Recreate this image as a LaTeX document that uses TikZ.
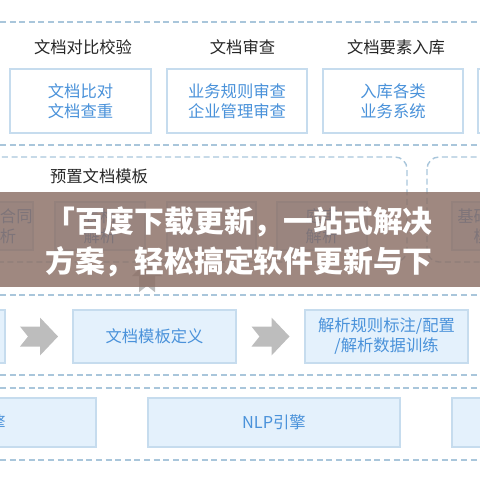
\documentclass[tikz,border=0pt]{standalone}
\usepackage{fontspec}
\setmainfont{Noto Sans CJK SC}
\usetikzlibrary{positioning}
\usetikzlibrary{calc}
\definecolor{dashblue}{HTML}{A9C6DB}
\definecolor{lineblue}{HTML}{C6DCEE}
\definecolor{fillblue}{HTML}{E4F1FC}
\definecolor{textblue}{HTML}{4A92DA}
\definecolor{headgray}{HTML}{262626}
\definecolor{chevgray}{HTML}{BDBDBD}
\definecolor{bannerbrown}{RGB}{138,110,100}

\begin{document}
\begin{tikzpicture}[x=0.025cm, y=-0.025cm,
  every node/.style={font=\fontsize{11.6}{14.2}\selectfont, inner sep=0pt},
  sep/.style={draw=dashblue, line width=1pt, dash pattern=on 0.15cm off 0.09cm},
  hdr/.style={text=headgray},
  topbox/.style={draw=lineblue, fill=white, line width=0.8pt, text=textblue, align=center, minimum height=1.6cm},
  tplbox/.style={draw=lineblue, fill=fillblue, line width=0.8pt, text=textblue, align=center, minimum height=1.2cm},
  flowbox/.style={draw=lineblue, fill=fillblue, line width=0.8pt, text=textblue, align=center},
  banner/.style={text=white, align=center, font=\fontsize{21.2}{28.45}\selectfont\bfseries},
  chev/.pic={\fill[chevgray] (-19,-10) -- (1,-10) -- (1,-19) -- (19,0) -- (1,19) -- (1,10) -- (-19,10) -- (-11,0) -- cycle;}]
            \useasboundingbox (0,0) rectangle (480,480);
            \clip (0,0) rectangle (480,480);

            \foreach \y in {22,145,295,375,388,460}
                \draw[sep] (0,\y) -- (480,\y);

            % top row
            \node[topbox, minimum width=3.525cm] (compare) at (80.5,101) {文档比对\\文档查重};
            \node[topbox, minimum width=3.5cm] (review) at (237,101) {业务规则审查\\企业管理审查};
            \node[topbox, minimum width=3.5cm] (store) at (393,101) {入库各类\\业务系统};
            \node[topbox, minimum width=3.5cm] (more) at (548,101) {};
            \node[hdr] (comparehdr) at (83,47) {文档对比校验};
            \node[hdr] (reviewhdr) at (242.5,47) {文档审查};
            \node[hdr] (storehdr) at (396,47) {文档要素入库};

            % preset templates
            \draw[sep, rounded corners=0.3cm] (-20,157) rectangle (407,262);
            \draw[sep, rounded corners=0.3cm] (427,157) rectangle (620,262);
            \node[hdr] (preset) at (99,176) {预置文档模板};
            \node[tplbox, minimum width=1.65cm] (contract) at (0,226) {买卖合同\\解析};
            \node[tplbox, minimum width=2.25cm] (table) at (100,226) {表格\\解析};
            \node[tplbox, minimum width=2.225cm] (blank) at (211.5,226) {};
            \node[tplbox, minimum width=2.25cm] (trial) at (322,226) {庭审\\解析};
            \node[tplbox, minimum width=1.9cm] (basic) at (490,226) {基础要素\\模板};
            \pic[rotate=90, scale=0.8] at (147,277) {chev};

            % flow row
            \node[flowbox, minimum width=3.875cm, minimum height=1.325cm] (upload) at (-72.5,336.5) {};
            \node[flowbox, minimum width=4.075cm, minimum height=1.325cm] (define) at (154.5,336.5) {文档模板定义};
            \node[flowbox, minimum width=4.075cm, minimum height=1.325cm] (rules) at (386.5,336.5) {解析规则标注/配置\\/解析数据训练};
            \pic at ($(upload.east)!0.5!(define.west)$) {chev};
            \pic at ($(define.east)!0.5!(rules.west)$) {chev};

            % engines
            \node[flowbox, minimum width=6.15cm, minimum height=1.225cm] (ocr) at (-27,422.5) {OCR引擎};
            \node[flowbox, minimum width=6.3cm, minimum height=1.225cm] (nlp) at (274,422.5) {NLP引擎};
            \node[flowbox, minimum width=5cm, minimum height=1.225cm] (rest) at (552,422.5) {};

            % overlay
            \fill[bannerbrown, opacity=0.82] (0,192) rectangle (480,287);
            \node[banner] (title) at (239,242) {「百度下载更新，一站式解决\\方案，轻松搞定软件更新与下};
        \end{tikzpicture}
\end{document}
